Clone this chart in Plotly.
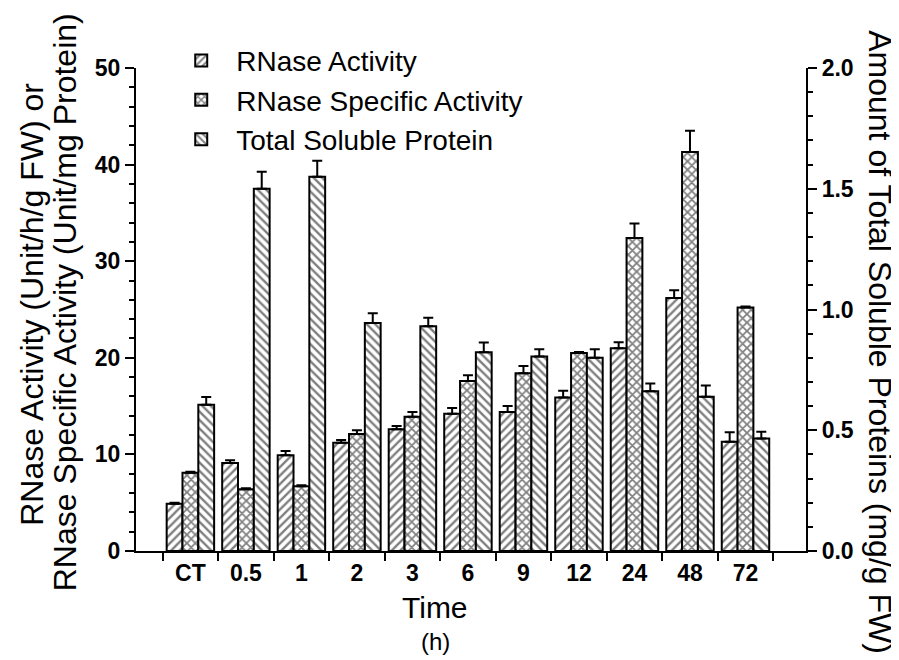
import plotly.graph_objects as go

categories = ["CT", "0.5", "1", "2", "3", "6", "9", "12", "24", "48", "72"]
rnase_activity = [4.9, 9.1, 9.9, 11.2, 12.6, 14.2, 14.4, 15.9, 21.0, 26.2, 11.3]
rnase_activity_err = [0.1, 0.3, 0.45, 0.3, 0.35, 0.6, 0.6, 0.7, 0.6, 0.8, 1.0]
specific_activity = [8.1, 6.4, 6.7, 12.1, 13.9, 17.6, 18.4, 20.5, 32.4, 41.3, 25.2]
specific_activity_err = [0.1, 0.1, 0.1, 0.4, 0.5, 0.6, 0.75, 0.1, 1.5, 2.2, 0.1]
soluble_protein = [0.606, 1.50, 1.55, 0.944, 0.931, 0.823, 0.805, 0.80, 0.661, 0.639, 0.466]
soluble_protein_err = [0.032, 0.07, 0.066, 0.04, 0.035, 0.04, 0.03, 0.035, 0.033, 0.046, 0.028]

FONT = "Liberation Sans, Arial, sans-serif"
bar_w = 0.285

def err(arr):
    return dict(type="data", array=arr, arrayminus=[0] * len(arr), symmetric=False,
                color="black", thickness=2, width=5)

def mk(shape, size, solidity):
    return dict(color="white", line=dict(color="black", width=2),
                pattern=dict(shape=shape, fgcolor="black", bgcolor="white",
                             size=size, solidity=solidity))

fig = go.Figure()
fig.add_trace(go.Bar(
    name="RNase Activity", x=categories, y=rnase_activity, yaxis="y",
    width=bar_w, offset=-1.5 * bar_w, error_y=err(rnase_activity_err),
    marker=mk("/", 6, 0.4)))
fig.add_trace(go.Bar(
    name="RNase Specific Activity", x=categories, y=specific_activity, yaxis="y",
    width=bar_w, offset=-0.5 * bar_w, error_y=err(specific_activity_err),
    marker=mk("x", 6, 0.5)))
fig.add_trace(go.Bar(
    name="Total Soluble Protein", x=categories, y=soluble_protein, yaxis="y2",
    width=bar_w, offset=0.5 * bar_w, error_y=err(soluble_protein_err),
    marker=mk("\\", 6, 0.4)))

tick_font = dict(size=23, family=FONT, weight="bold", color="black")
title_font = dict(size=32, family=FONT, color="black")

fig.update_layout(
    width=899, height=660,
    margin=dict(l=128, r=101, t=60, b=117, autoexpand=False),
    paper_bgcolor="white", plot_bgcolor="white",
    font=dict(family=FONT, color="black"),
    barmode="overlay",
    showlegend=True,
    legend=dict(xref="container", yref="container", x=0.176, y=0.958,
                xanchor="left", yanchor="top",
                font=dict(size=28, family=FONT, color="black"),
                bgcolor="rgba(0,0,0,0)", itemwidth=60, tracegroupgap=0),
    xaxis=dict(
        type="category", range=[-0.98, 11.09], tickson="boundaries",
        showline=True, linecolor="black", linewidth=2.2,
        ticks="outside", ticklen=8, tickwidth=2, tickcolor="black",
        tickfont=tick_font, showgrid=False, zeroline=False, automargin=False,
    ),
    yaxis=dict(
        range=[0, 50], dtick=10, showline=True, linecolor="black", linewidth=2.2,
        ticks="outside", ticklen=9, tickwidth=2, tickcolor="black",
        minor=dict(dtick=2, ticks="outside", ticklen=5, tickwidth=1.5, tickcolor="black"),
        tickfont=tick_font, showgrid=False, zeroline=False, automargin=False,
    ),
    yaxis2=dict(
        range=[0, 2.0], dtick=0.5, tickformat=".1f", overlaying="y", side="right",
        showline=True, linecolor="black", linewidth=2.2,
        ticks="outside", ticklen=9, tickwidth=2, tickcolor="black",
        minor=dict(dtick=0.1, ticks="outside", ticklen=5, tickwidth=1.5, tickcolor="black"),
        tickfont=tick_font, showgrid=False, zeroline=False, automargin=False,
    ),
    annotations=[
        dict(text="RNase Activity (Unit/h/g FW) or",
             xref="paper", yref="paper", x=-0.155, y=0.51, xanchor="center", yanchor="middle",
             textangle=-90, showarrow=False, font=title_font),
        dict(text="RNase Specific Activity (Unit/mg Protein)",
             xref="paper", yref="paper", x=-0.106, y=0.515, xanchor="center", yanchor="middle",
             textangle=-90, showarrow=False, font=title_font),
        dict(text="Amount of Total Soluble Proteins (mg/g FW)",
             xref="paper", yref="paper", x=1.11, y=1.083, xanchor="center", yanchor="top",
             textangle=90, showarrow=False, font=title_font),
        dict(text="Time",
             xref="paper", yref="paper", x=0.447, y=-0.118, xanchor="center", yanchor="middle",
             showarrow=False, font=dict(size=30, family=FONT, color="black")),
        dict(text="(h)",
             xref="paper", yref="paper", x=0.447, y=-0.188, xanchor="center", yanchor="middle",
             showarrow=False, font=dict(size=24, family=FONT, color="black")),
    ],
)

fig.write_html("out.html")
